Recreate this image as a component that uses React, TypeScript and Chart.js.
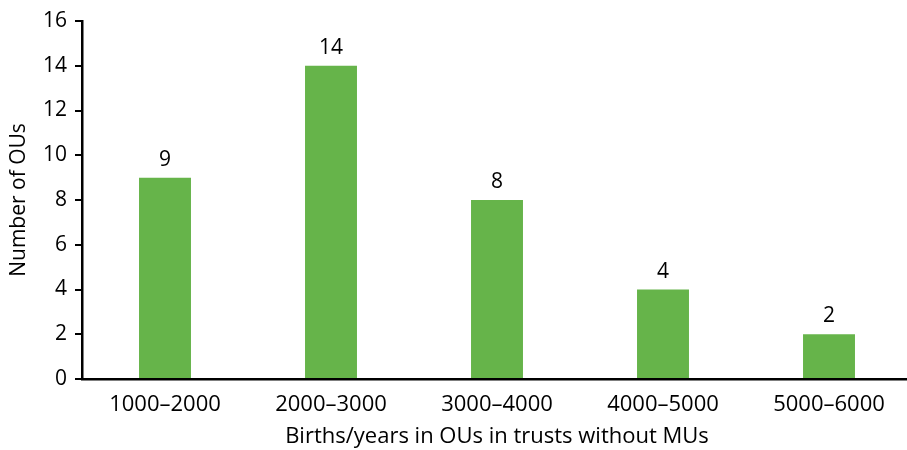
import React, { useEffect, useRef } from "react";
import { Chart, registerables } from "chart.js";
Chart.register(...registerables);

const categories = ["1000–2000", "2000–3000", "3000–4000", "4000–5000", "5000–6000"];
const values = [9, 14, 8, 4, 2];
const xTitle = "Births/years in OUs in trusts without MUs";
const yTitle = "Number of OUs";

const FONT = "'Open Sans', 'Noto Sans', sans-serif";

const labelPlugin = {
  id: "barLabels",
  afterDatasetsDraw(chart: any) {
    const ctx = chart.ctx;
    const meta = chart.getDatasetMeta(0);
    ctx.save();
    ctx.fillStyle = "#000";
    ctx.font = `21px ${FONT}`;
    ctx.textAlign = "center";
    ctx.textBaseline = "alphabetic";
    meta.data.forEach((bar: any, i: number) => {
      ctx.fillText(String(values[i]), bar.x, bar.y - 12);
    });
    ctx.restore();
  },
};

export default function App() {
  const ref = useRef<HTMLCanvasElement>(null);
  useEffect(() => {
    const chart = new Chart(ref.current!, {
      type: "bar",
      data: {
        labels: categories,
        datasets: [
          {
            data: values,
            backgroundColor: "#66b44a",
            categoryPercentage: 1,
            barPercentage: 0.313,
          },
        ],
      },
      options: {
        animation: false,
        responsive: false,
        devicePixelRatio: 1,
        layout: { padding: { top: 21, right: 0, bottom: 0, left: 0 } },
        plugins: { legend: { display: false }, tooltip: { enabled: false } },
        scales: {
          x: {
            afterFit: (s: any) => {
              s.height = 71;
            },
            grid: { display: false },
            border: { display: true, color: "#000", width: 2.5 },
            ticks: { color: "#000", font: { size: 22, family: FONT }, padding: 5 },
            title: {
              display: true,
              text: xTitle,
              color: "#000",
              font: { size: 22, family: FONT },
              padding: { top: 0, bottom: 0 },
            },
          },
          y: {
            min: 0,
            max: 16,
            afterFit: (s: any) => {
              s.width = 82;
            },
            ticks: { stepSize: 2, color: "#000", font: { size: 21, family: FONT }, padding: 8 },
            grid: { display: true, drawOnChartArea: false, drawTicks: true, tickLength: 7, color: "#000", lineWidth: 2 },
            border: { display: true, color: "#000", width: 2.5 },
            title: {
              display: true,
              text: yTitle,
              color: "#000",
              font: { size: 21, family: FONT },
              padding: { top: 6, bottom: 0 },
            },
          },
        },
      },
      plugins: [labelPlugin],
    });
    return () => chart.destroy();
  }, []);
  return (
    <div style={{ position: "fixed", left: 0, top: 0, width: 907, height: 450, overflow: "hidden", background: "#fff" }}>
      <canvas ref={ref} width={912} height={450} style={{ display: "block" }} />
    </div>
  );
}
